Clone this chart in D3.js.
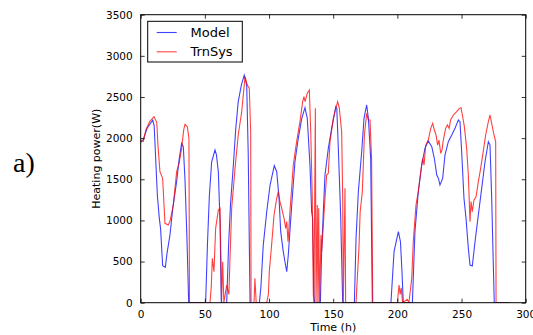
<!DOCTYPE html>
<html>
<head>
<meta charset="utf-8">
<script src="https://cdn.jsdelivr.net/npm/d3@7"></script>
<style>
  html, body { margin: 0; padding: 0; background: #fff; }
  svg { display: block; font-family: 'DejaVu Sans', sans-serif; }
</style>
</head>
<body>
<div id="chart"></div>
<script>
// Model series (hours, heating power W)
const modelHours = [0, 2, 5, 9.4, 10.5, 11.9, 13, 14.5, 15.5, 17.1, 19.2, 20.5, 22.8, 25, 28, 30, 31.9, 33.2, 34.5, 36, 37.4,
  50.6, 52, 53.5, 55.3, 57.9, 59, 60.5, 61.8, 62.8,
  67, 68.5, 70, 72.2, 74, 76, 78.5, 80.7, 82.6, 83.8, 85.2,
  92.5, 93.7, 95.5, 98.2, 100.8, 104.1, 106, 107.8, 109.1, 111.1, 112.4, 113.8, 115, 117.7, 120.2, 122.8, 125.5, 128, 129.8, 131.9, 133.2, 134, 135, 135.5,
  140, 141, 142.3, 143.6, 146.2, 148.8, 152, 152.8, 154, 155.8, 157.4,
  166.5, 167.8, 169.6, 172.2, 174, 176.1, 177.4, 179.2, 180.5,
  195, 197.4, 200.8, 202.4, 203.6, 204.6,
  211.7, 213.7, 216.3, 219, 221.5, 224.1, 226.8, 228.8, 230.7, 232, 233.2, 235.3, 237.1, 239.7, 242.4, 244.9, 247.5, 248.8, 250.1, 251.9, 253.5, 255.3, 256.6, 258.4, 260.5, 263.1, 265.7, 268.3, 270.9, 272.2, 273.5, 275.5,
  287];
const modelPower = [1950, 1980, 2120, 2220, 2150, 1673, 1300, 1025, 900, 450, 430, 600, 823, 1150, 1470, 1750, 1937, 1897, 1500, 800, 0,
  0, 700, 1300, 1713, 1856, 1800, 1592, 985, 0,
  0, 700, 1200, 1673, 2100, 2443, 2650, 2767, 2645, 1800, 0,
  0, 200, 700, 1106, 1430, 1665, 1592, 1269, 863, 620, 498, 377, 580, 1187, 1713, 1998, 2241, 2370, 2241, 1673, 1106, 1025, 94, 0,
  0, 620, 1106, 1552, 1876, 2119, 2382, 2362, 1876, 1066, 0,
  0, 783, 1349, 1835, 2241, 2403, 2241, 1755, 0,
  0, 620, 863, 741, 377, 0,
  0, 863, 1349, 1673, 1876, 1965, 1896, 1755, 1552, 1511, 1430, 1511, 1795, 1957, 2038, 2119, 2220, 2200, 1835, 1269, 1025, 661, 458, 446, 741, 1066, 1390, 1713, 1957, 1916, 1269, 0,
  0];

// TrnSys series (hours, heating power W)
const trnHours = [0, 2, 4, 7, 10.4, 12.5, 13.5, 15, 17.1, 18.9, 21.5, 23, 25.4, 28, 30, 31.9, 33.5, 34.5, 36.3, 37.6, 38,
  54, 55, 55.8, 57.1, 58.4, 60.5, 61.8, 62.6, 63, 63.9, 64.8, 67, 68.7, 69.5, 70.9, 73.5, 76, 78.7, 81.3, 83.1, 84.6, 85.7, 86,
  88.3, 89, 90,
  98.2, 99.5, 100.2, 102, 103.9, 106, 107.2, 108.5, 109.9, 111.7, 113, 113.8, 114.8, 116.3, 118.9, 121.5, 124.1, 126.2, 127.2, 128.1, 129.8, 131.4, 132.5, 133.7, 134.5, 135,
  136.1, 136.6, 137.6, 138.1, 138.7, 139.3, 140.5, 141, 142.3, 143.6, 144.9, 146.2, 147.5, 150.1, 152, 153.5, 154.8, 156.6, 157.4, 157.9, 159.2, 159.7,
  167.8, 168.3, 170.1, 171, 172.7, 174.3, 176.1, 177.4, 178.7, 179.9, 180.8,
  200, 201.3, 202.2, 203, 204.1, 207.7, 209,
  211.2, 212.4, 214.5, 216.3, 218.2, 219.7, 220.8, 222.1, 224.1, 226, 227.5, 228.8, 230.1, 231.4, 232.4, 233.8, 234.8, 235.8, 237.6, 239, 240.3, 241.5, 243.6, 246.2, 248.3, 249.6, 250.9, 252.2, 254, 255.3, 256.6, 257.4, 258.4, 259.7, 261.3, 263.1, 264.9, 266.9, 268.8, 270.9, 272.2, 273.5, 275.3, 276.6, 276.9,
  287];
const trnPower = [1977, 1960, 2100, 2200, 2260, 2192, 1900, 1592, 1512, 965, 944, 1000, 1187, 1592, 1700, 1876, 2100, 2168, 2139, 2001, 0,
  0, 200, 540, 377, 904, 1127, 1147, 458, 0, 498, 0, 215, 100, 500, 1147, 1633, 2038, 2321, 2746, 2645, 2605, 2078, 0,
  0, 296, 0,
  0, 100, 377, 700, 1066, 1269, 1349, 1228, 1147, 1025, 904, 985, 741, 1106, 1673, 1957, 2200, 2443, 2503, 2443, 2545, 2585, 2078, 1269, 94, 0,
  2362, 0, 1187, 0, 1147, 0, 823, 620, 944, 1269, 1552, 1572, 1957, 2241, 2362, 2443, 2362, 2078, 1269, 0, 1390, 0,
  0, 150, 680, 1106, 1349, 2038, 2301, 2220, 2220, 1755, 0,
  0, 215, 100, 180, 0, 40, 0,
  296, 741, 1187, 1349, 1592, 1755, 1673, 1916, 1977, 2119, 2180, 2099, 2038, 1916, 1977, 1815, 1856, 1977, 2119, 2160, 2119, 2220, 2281, 2321, 2362, 2370, 2260, 2139, 1876, 1552, 985, 1228, 1106, 1248, 1288, 1471, 1633, 1835, 2038, 2200, 2281, 2180, 2038, 1957, 0,
  0];

const xTicks = [0, 50, 100, 150, 200, 250, 300];
const yTicks = [0, 500, 1000, 1500, 2000, 2500, 3000, 3500];
const seriesNames = ['Model', 'TrnSys'];

const W = 533, H = 335;
const plotLeft = 140.7, plotRight = 525.7, plotTop = 14.7, plotBottom = 302.7;

const svg = d3.select('#chart').append('svg')
  .attr('width', W)
  .attr('height', H);

const x = d3.scaleLinear().domain([0, 300]).range([plotLeft, plotRight]);
const y = d3.scaleLinear().domain([0, 3500]).range([plotBottom, plotTop]);

const line = d3.line()
  .x(d => x(d[0]))
  .y(d => y(d[1]));

const model = modelHours.map((h, i) => [h, modelPower[i]]);
const trn = trnHours.map((h, i) => [h, trnPower[i]]);

svg.append('clipPath').attr('id', 'plot-clip')
  .append('rect')
  .attr('x', plotLeft).attr('y', plotTop)
  .attr('width', plotRight - plotLeft).attr('height', plotBottom - plotTop);

const plot = svg.append('g').attr('clip-path', 'url(#plot-clip)');

plot.append('path')
  .datum(model)
  .attr('d', line)
  .attr('fill', 'none')
  .attr('stroke', '#0000ff')
  .attr('stroke-opacity', 0.75)
  .attr('stroke-width', 1.1);

plot.append('path')
  .datum(trn)
  .attr('d', line)
  .attr('fill', 'none')
  .attr('stroke', '#ff0000')
  .attr('stroke-opacity', 0.75)
  .attr('stroke-width', 1.1);

// axes: inward ticks on all four sides
const tickLen = 4;
const axisStyle = g => {
  g.select('.domain').remove();
  g.selectAll('.tick line').attr('stroke', '#000').attr('stroke-width', 0.8);
  g.selectAll('.tick text')
    .attr('fill', '#000')
    .attr('font-size', '10.5px')
    .attr('font-family', "'DejaVu Sans', sans-serif");
};

svg.append('g')
  .attr('transform', `translate(0,${plotBottom})`)
  .call(d3.axisBottom(x).tickValues(xTicks).tickSizeInner(-tickLen).tickSizeOuter(0).tickPadding(8).tickFormat(d3.format('d')))
  .call(axisStyle);

svg.append('g')
  .attr('transform', `translate(0,${plotTop})`)
  .call(d3.axisTop(x).tickValues(xTicks).tickSizeInner(-tickLen).tickSizeOuter(0).tickFormat(''))
  .call(axisStyle);

svg.append('g')
  .attr('transform', `translate(${plotLeft},0)`)
  .call(d3.axisLeft(y).tickValues(yTicks).tickSizeInner(-tickLen).tickSizeOuter(0).tickPadding(8).tickFormat(d3.format('d')))
  .call(axisStyle);

svg.append('g')
  .attr('transform', `translate(${plotRight},0)`)
  .call(d3.axisRight(y).tickValues(yTicks).tickSizeInner(-tickLen).tickSizeOuter(0).tickFormat(''))
  .call(axisStyle);

// frame
svg.append('rect')
  .attr('x', plotLeft).attr('y', plotTop)
  .attr('width', plotRight - plotLeft).attr('height', plotBottom - plotTop)
  .attr('fill', 'none')
  .attr('stroke', '#000')
  .attr('stroke-width', 1);

// axis labels
svg.append('text')
  .attr('x', (plotLeft + plotRight) / 2)
  .attr('y', 331)
  .attr('text-anchor', 'middle')
  .attr('font-size', '11px')
  .text('Time (h)');

svg.append('text')
  .attr('transform', `translate(100,${(plotTop + plotBottom) / 2}) rotate(-90)`)
  .attr('text-anchor', 'middle')
  .attr('font-size', '11px')
  .text('Heating power(W)');

// panel label
svg.append('text')
  .attr('x', 13)
  .attr('y', 172)
  .attr('font-family', "'Liberation Serif', serif")
  .attr('font-size', '28px')
  .text('a)');

// legend
const legend = svg.append('g');
legend.append('rect')
  .attr('x', 147.7).attr('y', 21.3)
  .attr('width', 94.6).attr('height', 40.7)
  .attr('fill', '#fff')
  .attr('stroke', '#000')
  .attr('stroke-width', 1);

const legendColors = ['#0000ff', '#ff0000'];
seriesNames.forEach((name, i) => {
  const ly = 32.5 + i * 19.3;
  legend.append('line')
    .attr('x1', 156.7).attr('x2', 176.7)
    .attr('y1', ly).attr('y2', ly)
    .attr('stroke', legendColors[i])
    .attr('stroke-opacity', 0.75)
    .attr('stroke-width', 1.1);
  legend.append('text')
    .attr('x', 190.5)
    .attr('y', ly + 4.6)
    .attr('font-size', '13px')
    .text(name);
});
</script>
</body>
</html>
